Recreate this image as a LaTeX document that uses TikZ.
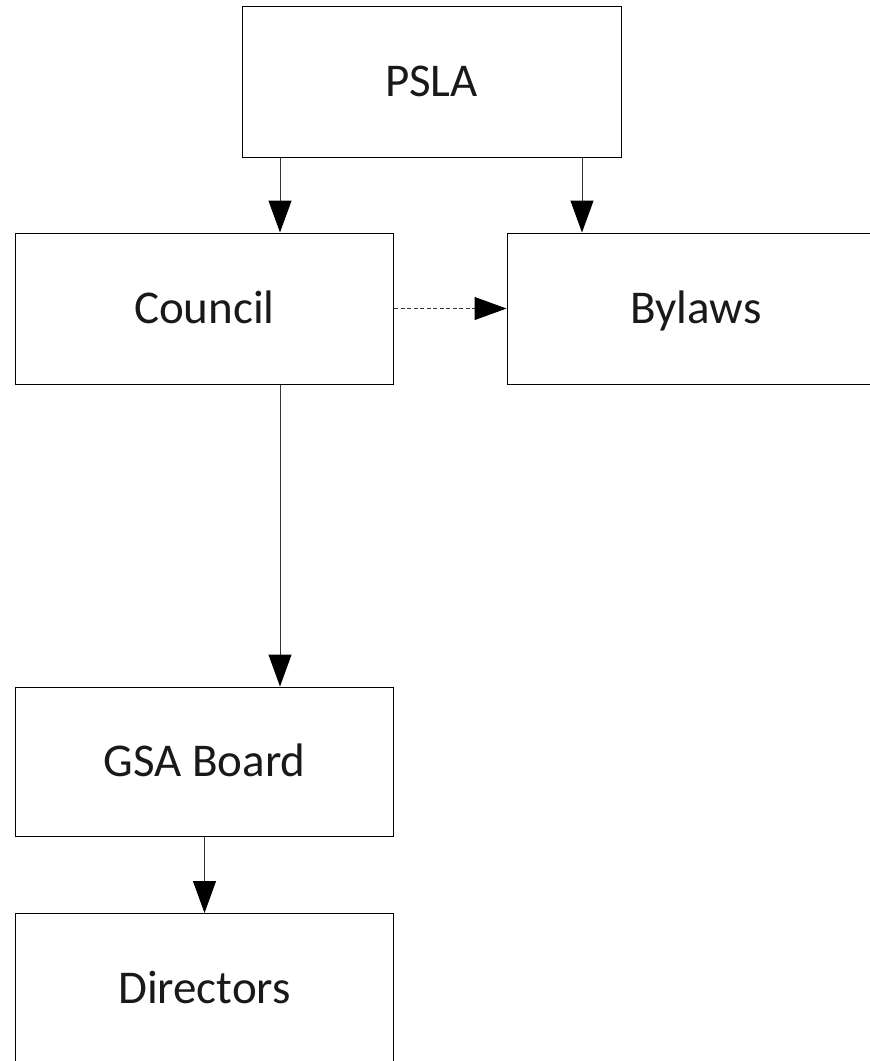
\documentclass[tikz,border=0pt]{standalone}
\usepackage{fontspec}
\setmainfont{Carlito}
\usetikzlibrary{arrows.meta}
\begin{document}
\begin{tikzpicture}[x=1pt,y=-1pt,
  box/.style={draw=black,line width=1pt,minimum width=378pt,minimum height=150pt,inner sep=0pt,
    font=\fontsize{47}{56}\selectfont,text height=30pt,text depth=0pt,text=black!90},
  arr/.style={-{Triangle[length=32pt,width=23pt,fill=black,color=black]},line width=1pt,draw=black!80}]
\useasboundingbox (0,0) rectangle (870,1061);
\clip (0,0) rectangle (870,1061);
\node[box,minimum width=379pt,minimum height=151pt] (psla) at (431.5,81.5) {PSLA};
\node[box,minimum height=151pt] (council) at (204.5,308.5) {Council};
\node[box,minimum height=151pt] (bylaws) at (696,308.5) {Bylaws};
\node[box,minimum height=149pt] (gsa) at (204.5,761.5) {GSA Board};
\node[box] (dir) at (204.5,988.5) {Directors};
\draw[arr] ([xshift=-151.5pt]psla.south) -- ([xshift=-151.5pt]psla.south |- council.north);
\draw[arr] ([xshift=150.5pt]psla.south) -- ([xshift=150.5pt]psla.south |- bylaws.north);
\draw[arr,dash pattern=on 4pt off 2.5pt] (council.east) -- (bylaws.west);
\draw[arr] ([xshift=75.5pt]council.south) -- ([xshift=75.5pt]council.south |- gsa.north);
\draw[arr] (gsa.south) -- (dir.north);
\end{tikzpicture}
\end{document}
